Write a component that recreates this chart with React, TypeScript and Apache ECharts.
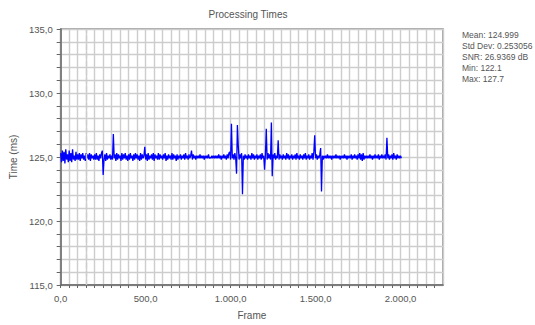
import React, { useEffect, useRef } from "react";
import * as echarts from "echarts";

const TITLE = "Processing Times";
const X_NAME = "Frame";
const Y_NAME = "Time (ms)";
const STATS = [
  "Mean: 124.999",
  "Std Dev: 0.253056",
  "SNR: 26.9369 dB",
  "Min: 122.1",
  "Max: 127.7",
];
const FRAME_STEP = 5;
const X_MIN = 0;
const X_MAX = 2250;
const Y_MIN = 115;
const Y_MAX = 135;
const X_LABEL_STEP = 500;
const Y_LABEL_STEP = 5;
const CURSOR_FRAME = 150;

const times: number[] = [
  125.3, 124.6, 125.5, 124.7, 125.4, 124.5, 125.6, 124.8, 125.2, 124.6, 125.5, 124.7, 125.3, 124.6, 125.6, 124.8, 125.1, 124.7, 125.4, 124.8,
  125.2, 124.8, 125.3, 124.7, 125.2, 124.9, 125.3, 124.8, 125.1, 124.7, 125.3, 124.9, 125.2, 124.8, 125.3, 124.7, 125.2, 124.9, 125.1, 124.8,
  125.2, 124.8, 125.3, 124.8, 125.1, 124.7, 125.2, 124.9, 125.3, 125.5, 123.6, 124.8, 125.2, 124.7, 125.3, 124.8, 125.1, 124.9, 125.2, 124.8,
  125.1, 124.8, 126.8, 124.9, 125.2, 124.7, 125.3, 124.8, 125.2, 124.9, 125.1, 124.7, 125.3, 124.8, 125.2, 124.9, 125.3, 124.8, 125.1, 124.7,
  125.2, 124.8, 125.3, 124.9, 125.1, 124.7, 125.2, 124.8, 125.3, 124.9, 125.2, 124.8, 125.1, 124.7, 125.3, 124.8, 125.2, 124.9, 125.1, 125.8,
  124.8, 125.2, 124.7, 125.3, 124.8, 125.1, 124.9, 125.2, 124.8, 125.3, 124.7, 125.2, 124.9, 125.1, 124.8, 125.3, 124.8, 125.2, 124.9, 125.1,
  124.8, 125.2, 124.9, 125.3, 124.7, 125.1, 124.8, 125.2, 124.9, 125.1, 124.8, 125.3, 124.8, 125.2, 124.9, 125.1, 124.7, 125.2, 124.8, 125.1,
  124.9, 125.2, 124.8, 125.1, 124.9, 125.2, 124.8, 125.3, 124.9, 125.1, 124.8, 125.2, 124.9, 125.1, 125.5, 124.8, 125.2, 124.9, 125.1, 124.8,
  125.1, 124.9, 125.1, 124.9, 125.2, 124.9, 125.1, 124.9, 125.1, 124.8, 125.1, 124.9, 125.1, 124.9, 125.2, 124.9, 125.0, 124.9, 125.1, 124.9,
  125.1, 124.9, 125.1, 124.9, 125.1, 124.9, 125.2, 124.9, 125.1, 124.8, 125.1, 124.9, 125.2, 124.9, 125.1, 124.8, 125.2, 124.9, 125.3, 125.4,
  124.8, 127.6, 124.9, 125.2, 124.8, 125.3, 124.9, 123.7, 127.5, 125.9, 124.8, 125.2, 124.9, 125.3, 122.1, 125.1, 124.8, 125.2, 124.9, 125.1,
  124.8, 125.2, 124.9, 125.1, 124.8, 125.3, 124.9, 125.2, 124.8, 125.1, 124.9, 125.2, 124.8, 125.1, 124.9, 125.2, 124.8, 125.3, 124.9, 125.1,
  124.0, 125.2, 127.2, 124.8, 125.3, 124.9, 125.2, 124.8, 127.7, 123.5, 125.2, 124.9, 125.3, 124.8, 125.1, 124.9, 126.3, 124.8, 125.2, 124.9,
  125.1, 124.8, 125.2, 124.9, 125.1, 124.8, 125.3, 124.9, 125.2, 124.8, 125.1, 124.9, 125.2, 124.8, 125.1, 124.9, 125.2, 124.8, 125.3, 124.9,
  125.1, 124.8, 125.2, 124.9, 125.1, 124.8, 125.2, 124.9, 125.3, 124.8, 125.1, 124.9, 125.2, 124.8, 125.1, 124.9, 125.3, 124.8, 125.4, 126.7,
  124.9, 125.2, 124.8, 125.1, 124.9, 125.2, 125.7, 122.3, 125.1, 124.8, 125.1, 124.9, 125.1, 124.9, 125.2, 124.9, 125.1, 124.9, 125.1, 124.8,
  125.1, 124.9, 125.1, 124.9, 125.2, 124.9, 125.1, 124.9, 125.1, 124.8, 125.1, 124.9, 125.1, 124.9, 125.2, 124.9, 125.1, 124.8, 125.1, 124.9,
  125.1, 124.9, 125.2, 124.8, 125.1, 124.9, 125.2, 124.9, 125.1, 124.8, 125.2, 124.9, 125.3, 124.8, 125.2, 124.7, 125.3, 124.8, 125.1, 124.9,
  125.1, 124.9, 125.1, 124.9, 125.2, 124.9, 125.1, 124.8, 125.1, 124.9, 125.2, 124.9, 125.1, 124.9, 125.2, 124.8, 125.1, 124.9, 125.2, 124.9,
  125.1, 124.9, 125.2, 124.8, 126.5, 124.9, 125.2, 124.8, 125.1, 124.9, 125.2, 124.8, 125.3, 124.9, 125.1, 124.8, 125.2, 124.9, 125.1, 124.9,
  125.1, 124.9,
];

const FONT = "'Liberation Sans', Arial, sans-serif";
const TEXT_COLOR = "#555";

function fmt(v: number): string {
  const fixed = v.toFixed(1);
  const [intPart, dec] = fixed.split(".");
  const withSep = intPart.replace(/\B(?=(\d{3})+(?!\d))/g, ".");
  return withSep + "," + dec;
}

export default function App() {
  const ref = useRef<HTMLDivElement>(null);
  useEffect(() => {
    if (!ref.current) return;
    const chart = echarts.init(ref.current, undefined, { renderer: "svg" });
    const data = times.map((t, i) => [i * FRAME_STEP, t]);
    const gridLeft = 53;
    const gridTop = 29;
    const gridW = 390;
    const gridH = 262;
    chart.setOption({
      animation: false,
      backgroundColor: "#fff",
      grid: {
        left: gridLeft,
        top: gridTop,
        width: gridW,
        height: gridH,
        show: true,
        borderColor: "#8a8a8a",
        borderWidth: 1.5,
      },
      graphic: [
        {
          type: "text",
          x: gridLeft + gridW / 2,
          y: 14,
          style: {
            text: TITLE,
            fontSize: 10,
            fontFamily: FONT,
            fill: TEXT_COLOR,
            textAlign: "center",
            textVerticalAlign: "middle",
          },
        },
        {
          type: "text",
          x: 462,
          y: 29,
          style: {
            text: STATS.join("\n"),
            fontSize: 8.5,
            lineHeight: 11.2,
            fontFamily: FONT,
            fill: TEXT_COLOR,
          },
        },
      ],
      xAxis: {
        type: "value",
        min: X_MIN,
        max: X_MAX,
        interval: 50,
        name: X_NAME,
        nameLocation: "middle",
        nameGap: 25,
        nameTextStyle: { fontSize: 10, fontFamily: FONT, color: TEXT_COLOR },
        axisLine: { show: true, lineStyle: { color: "#666", width: 1.5 } },
        axisTick: { show: true, length: 3, lineStyle: { color: "#666" } },
        axisLabel: {
          interval: 0,
          fontSize: 9.5,
          fontFamily: FONT,
          color: TEXT_COLOR,
          margin: 8,
          showMaxLabel: false,
          formatter: (v: number) => (v % X_LABEL_STEP === 0 ? fmt(v) : ""),
        },
        splitLine: { show: true, lineStyle: { color: "#cdcdcd", width: 1.4 } },
      },
      yAxis: {
        type: "value",
        min: Y_MIN,
        max: Y_MAX,
        interval: 1,
        name: Y_NAME,
        nameLocation: "middle",
        nameGap: 36,
        nameTextStyle: { fontSize: 10, fontFamily: FONT, color: TEXT_COLOR },
        axisLine: { show: true, lineStyle: { color: "#666", width: 1.5 } },
        axisTick: { show: true, length: 4, lineStyle: { color: "#666" } },
        axisLabel: {
          interval: 0,
          fontSize: 9.5,
          fontFamily: FONT,
          color: TEXT_COLOR,
          margin: 8,
          formatter: (v: number) => (v % Y_LABEL_STEP === 0 ? fmt(v) : ""),
        },
        splitLine: { show: true, lineStyle: { color: "#cdcdcd", width: 1.4 } },
      },
      series: [
        {
          type: "line",
          data,
          showSymbol: false,
          symbol: "none",
          lineStyle: { color: "#0000ff", width: 1.3 },
          silent: true,
          markLine: {
            silent: true,
            symbol: "none",
            label: { show: false },
            lineStyle: { color: "#cdcdcd", type: "dashed", width: 1.4 },
            data: [{ xAxis: CURSOR_FRAME }],
          },
        },
      ],
    });
    return () => chart.dispose();
  }, []);
  return (
    <div
      ref={ref}
      style={{ position: "fixed", left: 0, top: 0, width: 535, height: 325 }}
    />
  );
}
